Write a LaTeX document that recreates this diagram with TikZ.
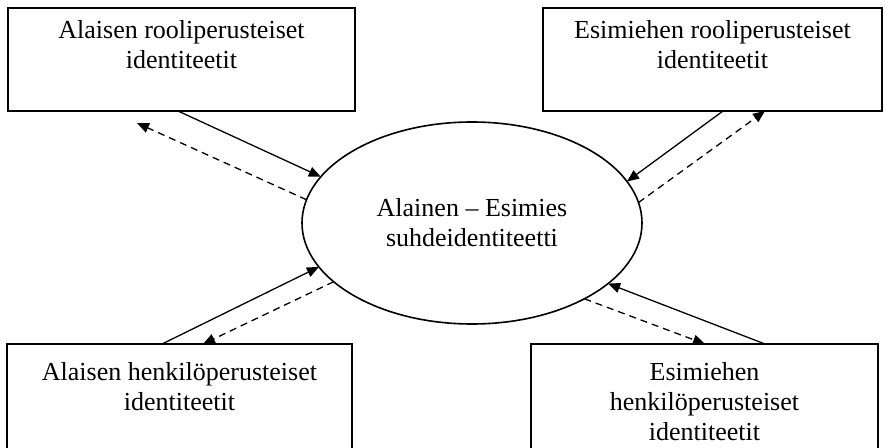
\documentclass[tikz,border=0pt]{standalone}
\usepackage{fontspec}
\setmainfont{Liberation Serif}
\usetikzlibrary{arrows.meta,shapes.geometric,calc}
\begin{document}
\begin{tikzpicture}[x=1pt,y=-1pt,
  boxframe/.style={draw, line width=1.8pt, inner sep=0pt, outer sep=0pt, anchor=north west},
  boxtext/.style={align=center, inner sep=0pt, anchor=north,
    font=\fontsize{26}{30}\selectfont},
  relation/.style={draw, ellipse, line width=1.6pt, inner sep=0pt, outer sep=0pt,
    minimum width=340pt, minimum height=202pt},
  tip/.style={-{Triangle[length=12pt,width=10pt]}},
  solidlink/.style={tip, line width=1.3pt},
  dashlink/.style={tip, line width=1.3pt, dash pattern=on 7pt off 5pt}]
\useasboundingbox (0,0) rectangle (885,447);
\clip (0,0) rectangle (885,447);

% the four identity boxes
\node[boxframe, minimum width=347pt, minimum height=103pt] (tl) at (8,8) {};
\node[boxframe, minimum width=339pt, minimum height=103pt] (tr) at (543,8) {};
\node[boxframe, minimum width=345pt, minimum height=120pt] (bl) at (7,344) {};
\node[boxframe, minimum width=347pt, minimum height=120pt] (br) at (531,344) {};

\node[boxtext] (tlt) at ($(tl.north)+(0,12)$) {Alaisen rooliperusteiset\\identiteetit};
\node[boxtext] (trt) at ($(tr.north)+(0,12)$) {Esimiehen rooliperusteiset\\identiteetit};
\node[boxtext] (blt) at ($(bl.north)+(0,18)$) {Alaisen henkilöperusteiset\\identiteetit};
\node[boxtext] (brt) at ($(br.north)+(0,18)$) {Esimiehen\\henkilöperusteiset\\identiteetit};

% the relation in the middle
\node[relation] (rel) at (472,223) {};
\node[align=center, inner sep=0pt, font=\fontsize{26}{30}\selectfont] (relt) at (rel.center)
  {Alainen – Esimies\\suhdeidentiteetti};

% attachment points on the boxes
\coordinate (tlS) at ($(tl.south west)+(170,0)$);
\coordinate (tlD) at ($(tl.south west)+(129,12)$);
\coordinate (trS) at ($(tr.south west)+(180,0)$);
\coordinate (trD) at ($(tr.south west)+(222,0)$);
\coordinate (blS) at ($(bl.north west)+(155,0)$);
\coordinate (blD) at ($(bl.north west)+(196,0)$);
\coordinate (brS) at ($(br.north west)+(234,0)$);
\coordinate (brD) at ($(br.north west)+(174,0)$);

% solid arrows into the relation, dashed arrows back out
\draw[solidlink] (tlS) -- (rel.163.5);
\draw[dashlink] (rel.172.9) -- (tlD);
\draw[solidlink] (trS) -- (rel.15.7);
\draw[dashlink] (rel.7.7) -- (trD);
\draw[solidlink] (blS) -- (rel.196.5);
\draw[dashlink] (rel.203.6) -- (blD);
\draw[solidlink] (brS) -- (rel.336.3);
\draw[dashlink] (rel.326.4) -- (brD);
\end{tikzpicture}
\end{document}
